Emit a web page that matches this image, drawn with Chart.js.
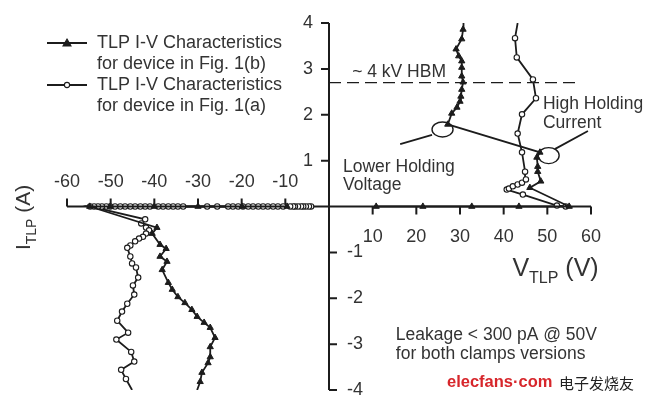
<!DOCTYPE html>
<html>
<head>
<meta charset="utf-8">
<title>TLP I-V</title>
<script src="https://cdn.jsdelivr.net/npm/chart.js@4.4.1/dist/chart.umd.min.js"></script>
<style>
  html, body { margin: 0; padding: 0; background: #fff; }
  #wrap { width: 650px; height: 402px; position: relative; }
</style>
</head>
<body>
<div id="wrap"><canvas id="tlpChart"></canvas></div>
<script>
// axis tick labels
const xTicksNeg = [-60, -50, -40, -30, -20, -10];
const xTicksPos = [10, 20, 30, 40, 50, 60];
const yTicksPos = [1, 2, 3, 4];
const yTicksNeg = [-1, -2, -3, -4];

// device in Fig. 1(b) (triangles), V in volts, I in amps
const bPosV = [10.8, 21.5, 32.7, 43.5, 55.0, 46.0, 48.5, 47.8, 47.8, 47.6, 48.3, 27.2, 28.1, 29.3, 30.0, 30.2, 30.4, 30.7, 30.4, 30.4, 30.4, 29.7, 29.1, 30.4, 30.7, 30.8];
const bPosI = [0, 0, 0, 0, 0, 0.41, 0.55, 0.76, 0.87, 1.07, 1.18, 1.79, 2.03, 2.16, 2.29, 2.40, 2.55, 2.71, 2.84, 3.03, 3.17, 3.28, 3.43, 3.65, 3.86, 4.0];
const bNegV = [-9.6, -19.9, -30.0, -40.0, -50.1, -54.8, -39.4, -40.5, -38.7, -37.3, -38.7, -37.1, -38.2, -36.8, -35.9, -34.6, -33.0, -31.4, -30.2, -28.6, -27.2, -26.1, -27.2, -27.2, -27.7, -29.1, -29.5, -30.2];
const bNegI = [0, 0, 0, 0, 0, 0, -0.46, -0.59, -0.83, -0.92, -1.09, -1.20, -1.38, -1.66, -1.81, -1.97, -2.10, -2.25, -2.40, -2.53, -2.64, -2.86, -3.06, -3.28, -3.41, -3.62, -3.82, -4.0];

// device in Fig. 1(a) (open circles)
const aPosV = [54.2, 52.2, 44.4, 40.7, 41.2, 42.1, 43.2, 44.2, 45.1, 44.9, 44.2, 43.2, 44.2, 47.4, 46.7, 43.0, 42.6, 43.2];
const aPosI = [0, 0.02, 0.26, 0.37, 0.39, 0.44, 0.48, 0.52, 0.59, 0.76, 1.18, 1.59, 2.01, 2.36, 2.77, 3.25, 3.67, 4.0];
const aNegV = [-4.1, -4.6, -5.3, -5.9, -6.4, -7.1, -7.8, -8.2, -8.9, -10.5, -11.7, -12.8, -14.0, -15.1, -16.2, -17.4, -18.5, -19.7, -20.8, -22.0, -23.1, -25.6, -27.9,
  -33.4, -34.6, -35.7, -36.8, -38.0, -39.1, -41.0, -42.1, -43.2, -44.4, -45.5, -46.7, -47.8, -49.0, -50.1, -51.0, -52.0, -52.9, -53.8, -54.7,
  -42.1, -43.0, -41.9, -41.2, -41.9, -42.6, -43.5, -44.4, -45.5, -46.2, -45.5, -45.1, -44.2, -43.7, -44.9, -44.6, -46.2, -47.4, -48.5, -46.0, -48.7, -45.3, -44.6, -47.6, -46.5, -45.1];
const aNegI = [0, 0, 0, 0, 0, 0, 0, 0, 0, 0, 0, 0, 0, 0, 0, 0, 0, 0, 0, 0, 0, 0, 0,
  0, 0, 0, 0, 0, 0, 0, 0, 0, 0, 0, 0, 0, 0, 0, 0, 0, 0, 0, 0,
  -0.28, -0.37, -0.46, -0.52, -0.59, -0.66, -0.70, -0.76, -0.85, -0.90, -1.09, -1.24, -1.33, -1.55, -1.72, -1.92, -2.12, -2.29, -2.49, -2.75, -2.90, -3.17, -3.38, -3.56, -3.76, -4.0];

// ~4 kV HBM level
const hbmV = [0, 56.8];
const hbmI = [2.7, 2.7];

const legendB = ['TLP I-V Characteristics', 'for device in Fig. 1(b)'];
const legendA = ['TLP I-V Characteristics', 'for device in Fig. 1(a)'];

const FONT = '"Liberation Sans", Arial, Helvetica, sans-serif';
const INK = '#1c1c1c';
const TEXT = '#333';

function toPoints(vs, is) {
    return vs.map((v, i) => ({ x: v, y: is[i] }));
}
// hide the marker on the last point (line runs off the plot end)
function radiusFor(r) {
    return ctx => ctx.dataIndex === ctx.dataset.data.length - 1 ? 0 : r;
}

function triSeries(data, label) {
    return {
        label: label, data: data, showLine: true,
        borderColor: INK, borderWidth: 1.8,
        pointStyle: 'triangle', pointRadius: radiusFor(3.6),
        pointBackgroundColor: INK, pointBorderColor: INK, pointBorderWidth: 1
    };
}
function circSeries(data, label) {
    return {
        label: label, data: data, showLine: true,
        borderColor: INK, borderWidth: 1.8,
        pointStyle: 'circle', pointRadius: radiusFor(2.7),
        pointBackgroundColor: '#fff', pointBorderColor: INK, pointBorderWidth: 1.1
    };
}

// axes through the origin, labels on the outer side of each half
const quadrantAxes = {
    id: 'quadrantAxes',
    beforeDatasetsDraw(chart) {
        const ctx = chart.ctx;
        const xs = chart.scales.x, ys = chart.scales.y;
        const x0 = xs.getPixelForValue(0), y0 = ys.getPixelForValue(0);
        ctx.save();
        ctx.strokeStyle = INK;
        ctx.lineWidth = 2;
        ctx.beginPath();
        ctx.moveTo(xs.getPixelForValue(xs.min), y0);
        ctx.lineTo(xs.getPixelForValue(xs.max), y0);
        ctx.moveTo(x0, ys.getPixelForValue(ys.max));
        ctx.lineTo(x0, ys.getPixelForValue(ys.min));
        xTicksNeg.forEach(v => { const p = xs.getPixelForValue(v); ctx.moveTo(p, y0); ctx.lineTo(p, y0 - 8); });
        xTicksPos.forEach(v => { const p = xs.getPixelForValue(v); ctx.moveTo(p, y0); ctx.lineTo(p, y0 + 8); });
        yTicksPos.forEach(v => { const p = ys.getPixelForValue(v); ctx.moveTo(x0, p); ctx.lineTo(x0 - 8, p); });
        yTicksNeg.forEach(v => { const p = ys.getPixelForValue(v); ctx.moveTo(x0, p); ctx.lineTo(x0 + 8, p); });
        ctx.stroke();

        ctx.fillStyle = TEXT;
        ctx.font = '18px ' + FONT;
        ctx.textBaseline = 'middle';
        ctx.textAlign = 'center';
        xTicksNeg.forEach(v => ctx.fillText(String(v), xs.getPixelForValue(v), y0 - 24));
        xTicksPos.forEach(v => ctx.fillText(String(v), xs.getPixelForValue(v), y0 + 31));
        ctx.textAlign = 'right';
        yTicksPos.forEach(v => ctx.fillText(String(v), x0 - 16, ys.getPixelForValue(v)));
        ctx.textAlign = 'left';
        yTicksNeg.forEach(v => ctx.fillText(String(v), x0 + 18, ys.getPixelForValue(v)));
        ctx.restore();
    },
    afterDatasetsDraw(chart) {
        const ctx = chart.ctx;
        const xs = chart.scales.x, ys = chart.scales.y;
        const px = v => xs.getPixelForValue(v), py = i => ys.getPixelForValue(i);
        ctx.save();

        // holding-point ellipses and pointers
        ctx.strokeStyle = INK;
        ctx.lineWidth = 1.4;
        ctx.beginPath();
        ctx.ellipse(px(26.0), py(1.68), 10.5, 7.5, 0, 0, Math.PI * 2);
        ctx.moveTo(px(50.3) + 10.5, py(1.11));
        ctx.ellipse(px(50.3), py(1.11), 10.5, 8, 0, 0, Math.PI * 2);
        ctx.stroke();
        ctx.lineWidth = 1.8;
        ctx.beginPath();
        ctx.moveTo(px(16.3), py(1.36)); ctx.lineTo(px(23.6), py(1.56));
        ctx.moveTo(px(51.7), py(1.25)); ctx.lineTo(px(59.3), py(1.645));
        ctx.stroke();

        // notes
        ctx.fillStyle = TEXT;
        ctx.textBaseline = 'middle';
        ctx.textAlign = 'left';
        ctx.font = '17.5px ' + FONT;
        ctx.fillText('~ 4 kV HBM', px(5.3), py(2.93));
        ctx.fillText('High Holding', px(49.0), py(2.23));
        ctx.fillText('Current', px(49.0), py(1.82));
        ctx.fillText('Lower Holding', px(3.2), py(0.86));
        ctx.fillText('Voltage', px(3.2), py(0.47));
        ctx.fillText('Leakage < 300 pA @ 50V', px(15.3), py(-2.80));
        ctx.fillText('for both clamps versions', px(15.3), py(-3.22));

        // axis titles
        ctx.textBaseline = 'alphabetic';
        let x = px(42.0);
        const yb = py(0) + 69;
        ctx.font = '25px ' + FONT;
        ctx.fillText('V', x, yb);
        x += ctx.measureText('V').width;
        ctx.font = '16px ' + FONT;
        ctx.fillText('TLP', x, yb + 7);
        x += ctx.measureText('TLP').width;
        ctx.font = '25px ' + FONT;
        ctx.fillText(' (V)', x, yb);

        ctx.save();
        ctx.translate(chart.chartArea.left - 37, py(-0.95));
        ctx.rotate(-Math.PI / 2);
        let t = 0;
        ctx.font = '21px ' + FONT;
        ctx.fillText('I', t, 0);
        t += ctx.measureText('I').width;
        ctx.font = '14px ' + FONT;
        ctx.fillText('TLP', t, 6);
        t += ctx.measureText('TLP').width;
        ctx.font = '21px ' + FONT;
        ctx.fillText(' (A)', t, 0);
        ctx.restore();

        // legend
        const ds = chart.data.datasets;
        const items = [ds[0], ds[2]];
        const rowY = [43, 85];
        items.forEach((d, k) => {
            const y = rowY[k];
            ctx.strokeStyle = INK;
            ctx.lineWidth = 2;
            ctx.beginPath();
            ctx.moveTo(47, y); ctx.lineTo(87, y);
            ctx.stroke();
            ctx.fillStyle = d.pointStyle === 'triangle' ? INK : '#fff';
            ctx.lineWidth = 1.1;
            ctx.beginPath();
            if (d.pointStyle === 'triangle') {
                ctx.moveTo(67, y - 4); ctx.lineTo(71, y + 3); ctx.lineTo(63, y + 3); ctx.closePath();
            } else {
                ctx.arc(67, y, 2.6, 0, Math.PI * 2);
            }
            ctx.fill();
            ctx.stroke();
            ctx.fillStyle = TEXT;
            ctx.font = '18px ' + FONT;
            ctx.textBaseline = 'middle';
            d.label.forEach((line, j) => ctx.fillText(line, 97, y + j * 21.5));
        });

        // source mark
        ctx.textBaseline = 'middle';
        ctx.font = 'bold 16.5px ' + FONT;
        ctx.fillStyle = '#d7262b';
        ctx.fillText('elecfans\u00b7com', 447, 382);
        ctx.font = '15px "Noto Sans CJK SC", sans-serif';
        ctx.fillStyle = '#222';
        ctx.fillText('电子发烧友', 559, 383);
        ctx.restore();
    }
};

const tlpChart = new Chart(document.getElementById('tlpChart'), {
    type: 'scatter',
    data: {
        datasets: [
            triSeries(toPoints(bPosV, bPosI), legendB),
            triSeries(toPoints(bNegV, bNegI), ''),
            circSeries(toPoints(aPosV, aPosI), legendA),
            circSeries(toPoints(aNegV, aNegI), ''),
            {
                label: 'HBM', data: toPoints(hbmV, hbmI), showLine: true,
                borderColor: INK, borderWidth: 1.3, borderDash: [12, 6], pointRadius: 0
            }
        ]
    },
    options: {
        responsive: true,
        maintainAspectRatio: false,
        animation: false,
        layout: { padding: { left: 67, right: 59, top: 23, bottom: 12 } },
        plugins: { legend: { display: false }, tooltip: { enabled: false } },
        scales: {
            x: { type: 'linear', min: -60, max: 60, display: false },
            y: { type: 'linear', min: -4, max: 4, display: false }
        }
    },
    plugins: [quadrantAxes]
});
</script>
</body>
</html>
